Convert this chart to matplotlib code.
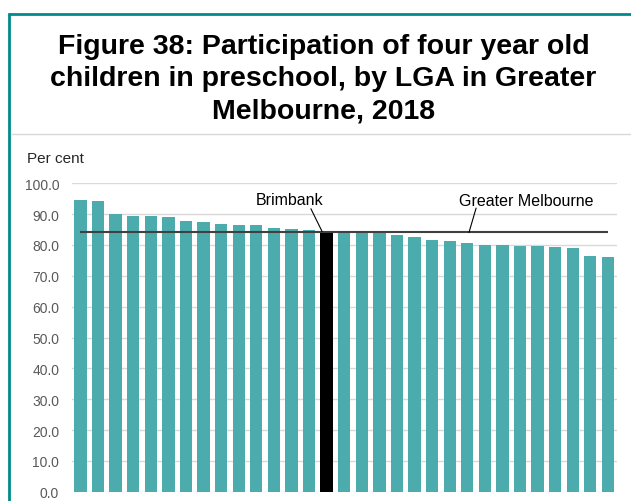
import matplotlib
matplotlib.use('Agg')
import matplotlib.pyplot as plt
from matplotlib.lines import Line2D
from matplotlib.ticker import FormatStrFormatter

plt.rcParams['font.family'] = ['Liberation Sans', 'DejaVu Sans']

# participation rate (%) for each LGA, sorted as in the figure
values = [94.5, 94.2, 90.1, 89.4, 89.4, 89.1, 87.8, 87.5, 86.8, 86.4, 86.4,
          85.4, 85.1, 84.8, 84.4, 84.5, 84.1, 84.1, 83.3, 82.7, 81.7, 81.4,
          80.6, 80.0, 80.0, 79.7, 79.7, 79.4, 79.0, 76.4, 76.1]
brimbank_idx = 14
greater_melb = 84.1
yticks = [0, 10, 20, 30, 40, 50, 60, 70, 80, 90, 100]

teal = '#4cacad'
border = '#008b8b'

fig = plt.figure(figsize=(6.31, 5.02), dpi=100)

# frame lines around the chart box
fig.add_artist(Line2D([8 / 631, 1], [1 - 15.3 / 502] * 2, color=border, lw=2.0,
                      solid_capstyle='butt'))
fig.add_artist(Line2D([9.3 / 631] * 2, [0, 1 - 14 / 502], color=border, lw=2.0,
                      solid_capstyle='butt'))
fig.add_artist(Line2D([11 / 631, 1], [1 - 135 / 502] * 2, color='#d9d9d9', lw=1.0))

fig.text(323.5 / 631, 1 - 79.5 / 502,
         'Figure 38: Participation of four year old\n'
         'children in preschool, by LGA in Greater\n'
         'Melbourne, 2018',
         ha='center', va='center', fontsize=20.5, fontweight='bold',
         linespacing=1.3)

ax = fig.add_axes([71.7 / 631, 1 - 492.7 / 502, 545 / 631, 308.4 / 502])

x = list(range(len(values)))
colors = [teal] * len(values)
colors[brimbank_idx] = 'black'
ax.bar(x, values, width=0.7, color=colors, zorder=2)

ax.hlines(greater_melb, 0, len(values) - 1, color='#404040', lw=1.5, zorder=3)

ax.set_xlim(-0.5, len(values) - 0.5)
ax.set_ylim(0, 100)
ax.set_yticks(yticks)
ax.yaxis.set_major_formatter(FormatStrFormatter('%.1f'))
ax.set_xticks([])
ax.tick_params(axis='y', length=0, pad=9, labelsize=10, labelcolor='#595959')
ax.grid(axis='y', color='#d9d9d9', lw=1.0, zorder=0)
for s in ax.spines.values():
    s.set_visible(False)

fig.text(26.7 / 631, 1 - 159 / 502, 'Per cent', ha='left', va='center',
         fontsize=11, color='#262626')

# labels with leader lines
ax.text(11.92, 94.9, 'Brimbank', ha='center', va='center', fontsize=11.5)
ax.plot([13.11, brimbank_idx - 0.26], [91.7, values[brimbank_idx]],
        color='black', lw=0.8, zorder=4)
ax.text(25.38, 94.4, 'Greater Melbourne', ha='center', va='center',
        fontsize=11.5)
ax.plot([22.5, 22.1], [91.9, greater_melb], color='black', lw=0.8, zorder=4)

fig.savefig('out.png', dpi=100)
